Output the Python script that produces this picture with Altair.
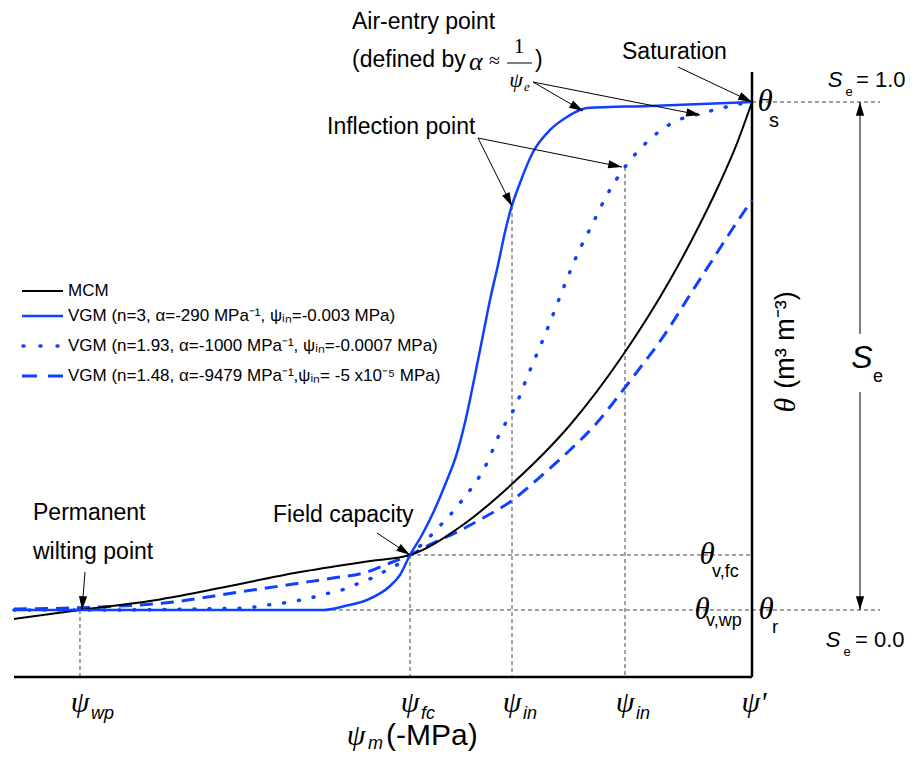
import math
import altair as alt
import pandas as pd

# ---------------- data (schematic units) ----------------
# x: relative matric-suction position (0 = left edge, 100 = psi')
# y: volumetric water content (0 = theta_r, 100 = theta_s)
mcm_x = [0, 8.94, 18.43, 27.91, 38.75, 48.24, 53.66, 60.43, 67.62, 75.34, 82.52, 88.89, 92.95, 95.39, 97.83, 100]
mcm_y = [-1.77, 0, 1.77, 4.33, 7.48, 9.65, 10.83, 16.34, 25.00, 36.42, 50.20, 64.96, 75.98, 83.27, 91.34, 100]

vgm3_x = [0, 11.65, 25.20, 41.87, 44.85, 47.83, 50.95, 52.30, 53.66, 55.28, 56.78, 58.40, 60.03, 61.25,
          62.33, 63.55, 64.50, 65.58, 66.53, 67.21, 68.56, 70.33, 72.63, 74.93, 77.64, 86.18, 100]
vgm3_y = [0, 0, 0, 0, 0.79, 1.97, 4.72, 6.89, 10.83, 14.76, 19.09, 24.61, 30.91, 37.80,
          45.28, 54.13, 61.02, 67.91, 74.41, 78.35, 84.06, 90.16, 94.49, 97.05, 98.82, 99.21, 100]

vgm193_x = [0, 11.65, 25.20, 31.30, 34.28, 37.40, 40.11, 42.14, 44.44, 46.48, 48.51, 50.54, 52.30, 53.66,
            57.45, 60.43, 64.09, 65.85, 67.89, 69.65, 72.22, 74.66, 76.42, 78.32, 80.35, 82.79, 85.77,
            89.16, 93.36, 97.70, 100]
vgm193_y = [0, 0, 0.2, 0.39, 0.98, 1.57, 2.36, 3.15, 3.94, 5.12, 6.30, 7.87, 9.25, 10.83,
            16.14, 21.06, 28.94, 34.84, 39.96, 46.26, 55.12, 64.17, 70.28, 75.79, 81.69, 87.20, 92.13,
            95.87, 97.83, 99.41, 100]

vgm148_x = [0, 11.65, 21.54, 29.67, 38.75, 43.22, 47.83, 50.95, 53.66, 56.78, 60.03, 63.55, 67.21,
            71.27, 75.34, 78.73, 82.11, 84.82, 87.94, 92.01, 94.72, 97.43, 100]
vgm148_y = [0.2, 0.59, 1.57, 3.35, 5.31, 6.30, 7.48, 9.25, 10.83, 13.19, 15.35, 18.11, 21.26,
            26.18, 31.50, 36.42, 42.52, 47.64, 53.74, 62.99, 69.09, 75.20, 80.71]

# key suction positions and water-content levels
tick_x = [8.94, 53.66, 67.48, 82.79, 100]
tick_sub = ["wp", "fc", "in", "in", ""]
theta_r, theta_fc, theta_s = 0, 10.83, 100
infl_solid_y, infl_dotted_y = 79.5, 87.2

legend_labels = [
    "MCM",
    "VGM (n=3, α=-290 MPa⁻¹, ψᵢₙ=-0.003 MPa)",
    "VGM (n=1.93, α=-1000 MPa⁻¹, ψᵢₙ=-0.0007 MPa)",
    "VGM (n=1.48, α=-9479 MPa⁻¹,ψᵢₙ= -5 x10⁻⁵ MPa)",
]

# ---------------- layout ----------------
W, H = 901, 745
PPX, PPY = 7.38, 5.08          # pixels per unit
X0PIX, Y0PIX = 14, 610         # page position of (0, 0)
BLUE = "#1040ff"
SANS = "Liberation Sans"
SERIF = "Liberation Serif"


def ux(px):
    return (px - X0PIX) / PPX


def uy(py):
    return (Y0PIX - py) / PPY


xs = alt.Scale(domain=[ux(8), ux(8 + W)], nice=False, zero=False)
ys = alt.Scale(domain=[uy(8 + H), uy(8)], nice=False, zero=False)


def X(f="x"):
    return alt.X(f"{f}:Q", scale=xs, axis=None)


def Y(f="y"):
    return alt.Y(f"{f}:Q", scale=ys, axis=None)


layers = []


def curve(xv, yv, **kw):
    df = pd.DataFrame({"x": xv, "y": yv, "i": list(range(len(xv)))})
    return alt.Chart(df).mark_line(interpolate="monotone", **kw).encode(x=X(), y=Y(), order="i:Q")


def seg(x1, y1, x2, y2, **kw):
    df = pd.DataFrame({"x": [x1], "y": [y1], "x2": [x2], "y2": [y2]})
    return alt.Chart(df).mark_rule(**kw).encode(x=X(), y=Y(), x2="x2:Q", y2="y2:Q")


HEAD = "M0,0L-2,-0.6L-2,0.6Z"


def arrow(x1, y1, x2, y2, size=190):
    dxp = (x2 - x1) * PPX
    dyp = -(y2 - y1) * PPY
    ang = math.degrees(math.atan2(dyp, dxp)) % 360
    line = seg(x1, y1, x2, y2, color="black", strokeWidth=1)
    head = alt.Chart(pd.DataFrame({"x": [x2], "y": [y2], "a": [ang]})).mark_point(
        shape=HEAD, filled=True, color="black", size=size, opacity=1, strokeWidth=0
    ).encode(x=X(), y=Y(), angle=alt.Angle("a:Q", scale=None))
    return [line, head]


def label(text, px, py, size, font=SANS, style="normal", align="left", angle=0):
    df = pd.DataFrame({"x": [ux(px)], "y": [uy(py)], "t": [text]})
    return alt.Chart(df).mark_text(
        fontSize=size, font=font, fontStyle=style, align=align, baseline="middle",
        angle=angle, color="black"
    ).encode(x=X(), y=Y(), text="t:N")


AXIS_Y = uy(677)
AXIS_TOP = uy(72)
SE_X = ux(860)
GUIDE_END = ux(880)
GRID = dict(color="#444444", strokeWidth=1, strokeDash=[4, 3])

# guide lines
layers.append(seg(tick_x[0], theta_r, tick_x[0], AXIS_Y, **GRID))
layers.append(seg(tick_x[1], theta_fc, tick_x[1], AXIS_Y, **GRID))
layers.append(seg(tick_x[2], infl_solid_y, tick_x[2], AXIS_Y, **GRID))
layers.append(seg(tick_x[3], infl_dotted_y, tick_x[3], AXIS_Y, **GRID))
layers.append(seg(tick_x[1], theta_fc, tick_x[4], theta_fc, **GRID))
layers.append(seg(tick_x[0], theta_r, GUIDE_END, theta_r, **GRID))
layers.append(seg(tick_x[4], theta_s, GUIDE_END, theta_s, **GRID))

# axes
layers.append(seg(0, AXIS_Y, 100, AXIS_Y, color="black", strokeWidth=2.5))
layers.append(seg(100, AXIS_Y, 100, AXIS_TOP, color="black", strokeWidth=2.5))

# curves
layers.append(curve(vgm148_x, vgm148_y, color=BLUE, strokeWidth=3, strokeDash=[13, 8]))
layers.append(curve(vgm193_x, vgm193_y, color=BLUE, strokeWidth=3.5, strokeDash=[1, 14], strokeCap="round"))
layers.append(curve(mcm_x, mcm_y, color="black", strokeWidth=2))
layers.append(curve(vgm3_x, vgm3_y, color=BLUE, strokeWidth=2.5))

# arrows
layers += arrow(ux(678), uy(67), 100, theta_s)
layers += arrow(ux(533), uy(82), ux(583), uy(111))
layers += arrow(ux(533), uy(82), ux(700), uy(115))
layers += arrow(ux(478), uy(138), tick_x[2], infl_solid_y)
layers += arrow(ux(478), uy(138), ux(622), infl_dotted_y)
layers += arrow(ux(377), uy(533), tick_x[1], theta_fc)
layers += arrow(ux(85), uy(572), ux(82), theta_r)
layers += arrow(SE_X, uy(334), SE_X, theta_s)
layers += arrow(SE_X, uy(392), SE_X, theta_r)

# annotation texts
layers.append(label("Air-entry point", 352, 22, 23))
layers.append(label("(defined by", 352, 60, 23))
layers.append(label("α", 469, 62, 26, SERIF, "italic"))
layers.append(label("≈", 489, 61, 20, SERIF))
layers.append(label("1", 519, 46, 22, SERIF, align="center"))
layers.append(seg(ux(507), uy(63), ux(532), uy(63), color="black", strokeWidth=1))
layers.append(label("ψ", 516, 80, 22, SERIF, "italic", "center"))
layers.append(label("e", 524, 87, 13, SERIF, "italic"))
layers.append(label(")", 535, 60, 23))
layers.append(label("Saturation", 622, 52, 23))
layers.append(label("Inflection point", 327, 127, 23))
layers.append(label("Permanent", 33, 513, 23))
layers.append(label("wilting point", 33, 552, 23))
layers.append(label("Field capacity", 273, 515, 23))

# theta labels
layers.append(label("θ", 765, 102, 31, SERIF, "italic", "center"))
layers.append(label("s", 774, 121, 20, align="center"))
layers.append(label("θ", 707, 555, 31, SERIF, "italic", "center"))
layers.append(label("v,fc", 712, 572, 18))
layers.append(label("θ", 702, 610, 31, SERIF, "italic", "center"))
layers.append(label("v,wp", 706, 621, 18))
layers.append(label("θ", 766, 610, 31, SERIF, "italic", "center"))
layers.append(label("r", 772, 627, 19))

# Se labels
layers.append(label("S", 835, 80, 22, SANS, "italic", "center"))
layers.append(label("e", 849, 92, 13, align="center"))
layers.append(label("= 1.0", 856, 80, 22))
layers.append(label("S", 833, 640, 22, SANS, "italic", "center"))
layers.append(label("e", 847, 652, 13, align="center"))
layers.append(label("= 0.0", 855, 640, 22))
layers.append(label("S", 862, 358, 32, SANS, "italic", "center"))
layers.append(label("e", 878, 377, 18, align="center"))

# y title (rotated)
layers.append(label("(m³ m⁻³)", 786, 340, 27, angle=270, align="center"))
layers.append(label("θ", 786, 405, 30, SERIF, "italic", "center", angle=270))

# x tick labels
for tx, sub in zip(tick_x, tick_sub):
    px = X0PIX + tx * PPX
    if sub:
        layers.append(label("ψ", px, 703, 30, SERIF, "italic", "center"))
        layers.append(label(sub, px + 11, 714, 18, SANS, "italic"))
    else:
        layers.append(label("ψ'", px + 2, 703, 30, SERIF, "italic", "center"))

# x title
layers.append(label("ψ", 356, 736, 30, SERIF, "italic", "center"))
layers.append(label("m", 368, 744, 18, SANS, "italic"))
layers.append(label("(-MPa)", 386, 736, 30))

# legend
leg_y = [291, 316, 346, 376]
layers.append(seg(ux(22), uy(leg_y[0]), ux(63), uy(leg_y[0]), color="black", strokeWidth=2))
layers.append(seg(ux(22), uy(leg_y[1]), ux(63), uy(leg_y[1]), color=BLUE, strokeWidth=2.5))
layers.append(seg(ux(23), uy(leg_y[2]), ux(58), uy(leg_y[2]), color=BLUE, strokeWidth=3.5,
                  strokeDash=[1, 16], strokeCap="round"))
layers.append(seg(ux(22), uy(leg_y[3]), ux(63), uy(leg_y[3]), color=BLUE, strokeWidth=3,
                  strokeDash=[15, 11]))
for t, ly in zip(legend_labels, leg_y):
    layers.append(label(t, 68, ly, 17))

chart = alt.layer(*layers).properties(
    width=W, height=H, padding=0, autosize=alt.AutoSizeParams(type="none")
).configure_view(stroke=None)

chart.save("out.html", embed_options={"renderer": "svg", "actions": False})
